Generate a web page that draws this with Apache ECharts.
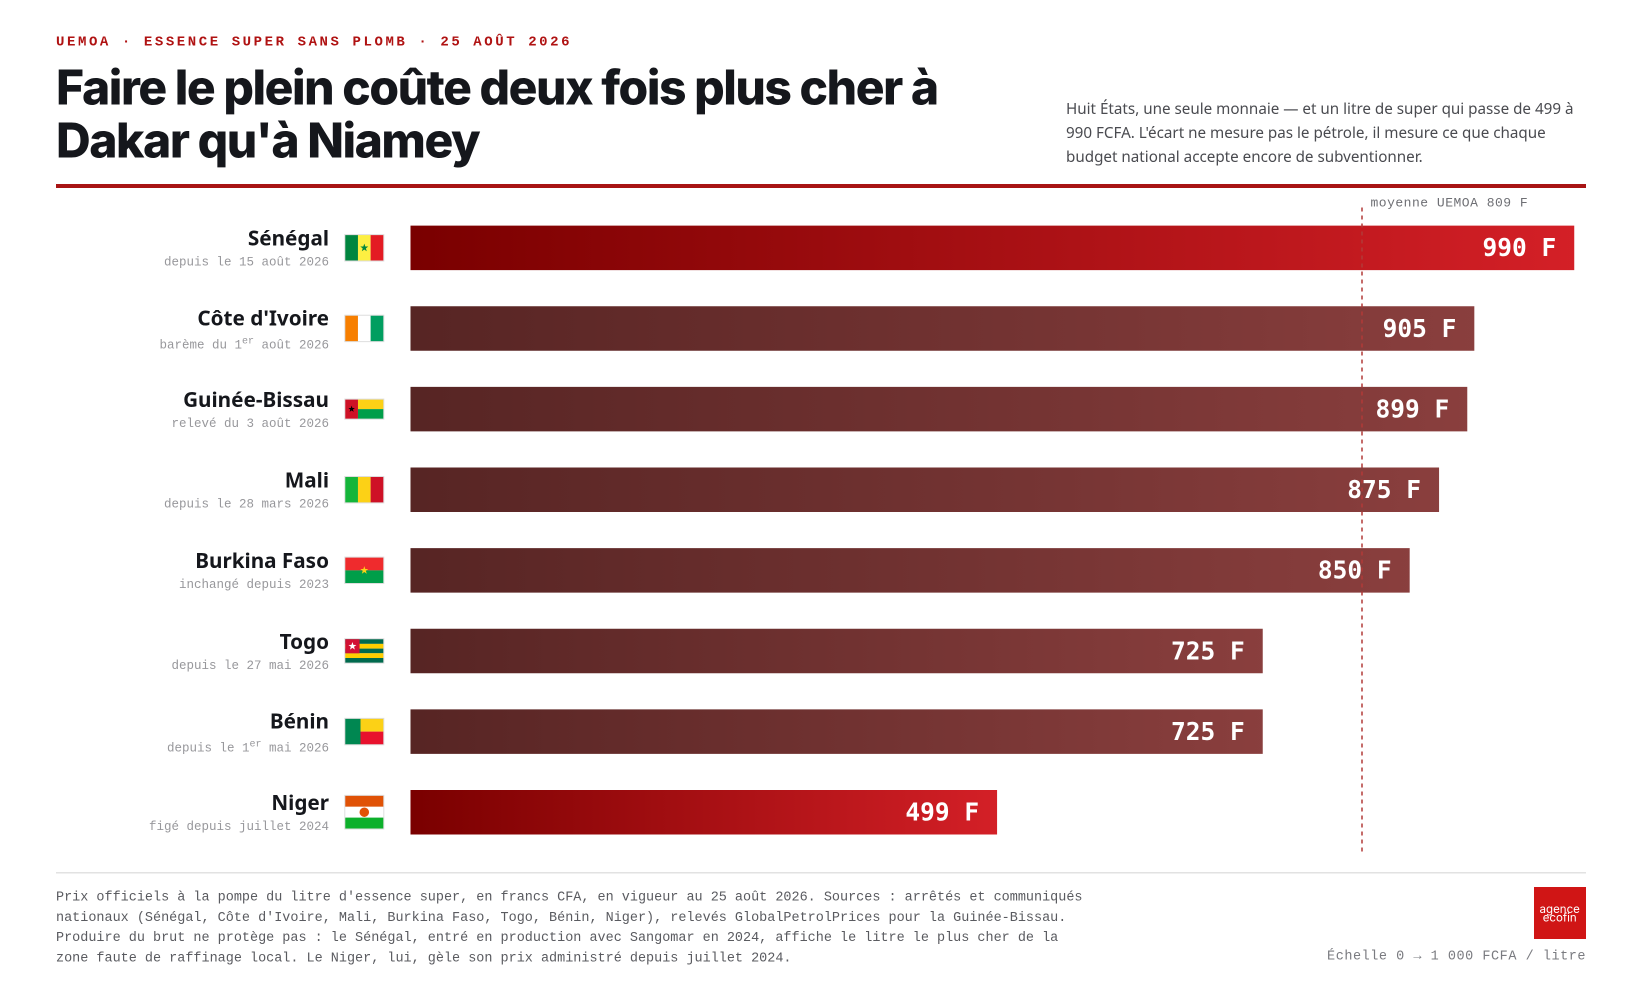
<!DOCTYPE html>
<html lang="fr"><head><meta charset="utf-8">
<style>html,body{margin:0;padding:0;background:#fff}#c{width:1639px;height:982px}</style>
<script src="https://cdn.jsdelivr.net/npm/echarts@6/dist/echarts.min.js"></script>
</head><body><div id="c"></div>
<script>
const countries=["Sénégal","Côte d'Ivoire","Guinée-Bissau","Mali","Burkina Faso","Togo","Bénin","Niger"];
const notes=["depuis le 15 août 2026","barème du 1^ août 2026","relevé du 3 août 2026","depuis le 28 mars 2026","inchangé depuis 2023","depuis le 27 mai 2026","depuis le 1^ mai 2026","figé depuis juillet 2024"];
const prices=[990,905,899,875,850,725,725,499];
const highlighted=[true,false,false,false,false,false,false,true];
const average=809;
const eyebrow="UEMOA · ESSENCE SUPER SANS PLOMB · 25 AOÛT 2026";
const titleLines=["Faire le plein coûte deux fois plus cher à","Dakar qu'à Niamey"];
const deckLines=["Huit États, une seule monnaie — et un litre de super qui passe de 499 à","990 FCFA. L'écart ne mesure pas le pétrole, il mesure ce que chaque","budget national accepte encore de subventionner."];
const footLines=["Prix officiels à la pompe du litre d'essence super, en francs CFA, en vigueur au 25 août 2026. Sources : arrêtés et communiqués","nationaux (Sénégal, Côte d'Ivoire, Mali, Burkina Faso, Togo, Bénin, Niger), relevés GlobalPetrolPrices pour la Guinée-Bissau.","Produire du brut ne protège pas : le Sénégal, entré en production avec Sangomar en 2024, affiche le litre le plus cher de la","zone faute de raffinage local. Le Niger, lui, gèle son prix administré depuis juillet 2024."];
const scaleNote="Échelle 0 → 1 000 FCFA / litre";
const avgLabel="moyenne UEMOA 809 F";

const MONO='"Liberation Mono","DejaVu Sans Mono",monospace';
const SANS='"Noto Sans",sans-serif';
const spacing={};
spacing[eyebrow]='2.58px';spacing[scaleNote]='0.53px';spacing[avgLabel]='0.5px';
titleLines.forEach(t=>spacing[t]='-1.45px');
const origFill=CanvasRenderingContext2D.prototype.fillText;
CanvasRenderingContext2D.prototype.fillText=function(t,x,y,m){
  this.letterSpacing=spacing[t]||'0px';
  if(m!==undefined)origFill.call(this,t,x,y,m); else origFill.call(this,t,x,y);
  this.letterSpacing='0px';
};

function star(cx,cy,r){const p=[];for(let i=0;i<10;i++){const a=-Math.PI/2+i*Math.PI/5,q=i%2?r*0.4:r;p.push([cx+q*Math.cos(a),cy+q*Math.sin(a)]);}return p;}
const flags=[
 {h:2/3,p:[[0,0,1/3,1,'#00853F'],[1/3,0,1/3,1,'#FDEF42'],[2/3,0,1/3,1,'#E31B23']],star:[.5,.5,.11,'#00853F']},
 {h:2/3,p:[[0,0,1/3,1,'#F77F00'],[1/3,0,1/3,1,'#FFFFFF'],[2/3,0,1/3,1,'#009E60']]},
 {h:1/2,p:[[1/3,0,2/3,.5,'#FCD116'],[1/3,.5,2/3,.5,'#009E49'],[0,0,1/3,1,'#CE1126']],star:[1/6,.5,.09,'#000000']},
 {h:2/3,p:[[0,0,1/3,1,'#14B53A'],[1/3,0,1/3,1,'#FCD116'],[2/3,0,1/3,1,'#CE1126']]},
 {h:2/3,p:[[0,0,1,.5,'#EF2B2D'],[0,.5,1,.5,'#009E49']],star:[.5,.5,.11,'#FCD116']},
 {h:.618,p:[[0,0,1,.2,'#006A4E'],[0,.2,1,.2,'#FFCE00'],[0,.4,1,.2,'#006A4E'],[0,.6,1,.2,'#FFCE00'],[0,.8,1,.2,'#006A4E'],[0,0,.375,.6,'#D21034']],star:[.1875,.3,.11,'#FFFFFF']},
 {h:2/3,p:[[.4,0,.6,.5,'#FCD116'],[.4,.5,.6,.5,'#E8112D'],[0,0,.4,1,'#008751']]},
 {h:6/7,p:[[0,0,1,1/3,'#E05206'],[0,1/3,1,1/3,'#FFFFFF'],[0,2/3,1,1/3,'#0DB02B']],disc:[.5,.5,.125,'#E05206']}
];
const FW=38;
function renderFlag(params,api){
  const i=api.value(1),f=flags[i],c=api.coord([0,i]);
  const cx=c[0]-46.2,cy=c[1],H=FW*f.h,x0=cx-FW/2,y0=cy-H/2;
  const kids=[{type:'rect',shape:{x:x0-1,y:y0-1,width:FW+2,height:H+2},style:{fill:'#dedede'}}];
  f.p.forEach(r=>kids.push({type:'rect',shape:{x:x0+r[0]*FW,y:y0+r[1]*H,width:r[2]*FW,height:r[3]*H},style:{fill:r[4]}}));
  if(f.star){const s=f.star;kids.push({type:'polygon',shape:{points:star(x0+s[0]*FW,y0+s[1]*H,s[2]*FW)},style:{fill:s[3]}});}
  if(f.disc){const s=f.disc;kids.push({type:'circle',shape:{cx:x0+s[0]*FW,cy:y0+s[1]*H,r:s[2]*FW},style:{fill:s[3]}});}
  return {type:'group',children:kids};
}
function txt(text,x,y,font,fill,align,extra){
  return Object.assign({type:'text',x:x,y:y,silent:true,style:{text:text,x:0,y:0,font:font,fill:fill,textAlign:align||'left',textVerticalAlign:'middle'}},extra||{});
}
const grads=(i)=>{
  const st=highlighted[i]?[ '#7a0000','#d42027']:['#572524','#8a3f3e'];
  return new echarts.graphic.LinearGradient(0,0,1,0,[{offset:0,color:st[0]},{offset:1,color:st[1]}]);
};
const graphic=[
  txt(eyebrow,56,42,'bold 14px '+MONO,'#b01212'),
  ...titleLines.map((t,i)=>txt(t,56,90+i*53,'800 48px Inter','#15171c')),
  ...deckLines.map((t,i)=>txt(t,1066,109.5+i*24.2,'15.2px '+SANS,'#4a4b50')),
  {type:'rect',silent:true,shape:{x:56,y:184,width:1530,height:4},style:{fill:'#a81414'}},
  {type:'rect',silent:true,shape:{x:56,y:872,width:1530,height:1.5},style:{fill:'#e2e2e2'}},
  ...footLines.map((t,i)=>txt(t,56,897+i*20.25,'13.47px '+MONO,'#5a5b60')),
  txt(scaleNote,1586,956,'13.5px '+MONO,'#7a7b80','right'),
  {type:'rect',silent:true,shape:{x:1534,y:887,width:52,height:52},style:{fill:'#d01515'}},
  txt('agence',1559.7,909.5,'11.5px Inter','#ffffff','center'),
  txt('ecofin',1559.7,918,'11.5px Inter','#ffffff','center')
];
function labelFor(i){
  const n=notes[i],hasSup=n.indexOf('^')>=0;
  const sub=hasSup?n.split('^').map(s=>'{ss|'+s+'}').join('{sup|er}'):'{s|'+n+'}';
  return '{'+(hasSup?'nn':'n')+'|'+countries[i]+'}\n'+sub;
}
const chart=echarts.init(document.getElementById('c'),null,{renderer:'canvas',width:1639,height:982,devicePixelRatio:2});
chart.setOption({
  animation:false,
  backgroundColor:'#ffffff',
  graphic:graphic,
  grid:{left:410.5,top:207.5,width:1175.5,height:645,containLabel:false},
  xAxis:{type:'value',min:0,max:1000,show:false},
  yAxis:{type:'category',inverse:true,data:countries,
    axisLine:{show:false},axisTick:{show:false},splitLine:{show:false},
    axisLabel:{margin:81.5,align:'right',interval:0,
      formatter:(v,i)=>labelFor(i),
      rich:{
        n:{fontWeight:700,fontFamily:'Noto Sans',fontSize:20.7,color:'#15171c',lineHeight:29},
        nn:{fontWeight:700,fontFamily:'Noto Sans',fontSize:20.7,color:'#15171c',lineHeight:33},
        s:{fontFamily:'Liberation Mono',fontSize:12.5,color:'#98989c',lineHeight:16},
        ss:{fontFamily:'Liberation Mono',fontSize:12.5,color:'#98989c',lineHeight:18},
        sup:{fontFamily:'Liberation Mono',fontSize:10,color:'#98989c',lineHeight:18,verticalAlign:'top'}
      }}},
  series:[
   {type:'bar',barWidth:44.5,data:prices.map((v,i)=>({value:v,itemStyle:{color:grads(i)}})),
    label:{show:true,position:'insideRight',distance:18,offset:[0,2],formatter:'{c} F',fontFamily:'DejaVu Sans Mono',fontWeight:'bold',fontSize:24.5,color:'#fff'},
    markLine:{silent:true,symbol:'none',animation:false,data:[{xAxis:average}],
      lineStyle:{type:[4,4],color:'#b23a38',width:1.5},
      label:{show:true,position:'start',formatter:avgLabel,align:'left',offset:[9,7],fontFamily:'Liberation Mono',fontSize:13,color:'#6e6f74'}},
    z:2},
   {type:'custom',renderItem:renderFlag,clip:false,silent:true,data:countries.map((c,i)=>[0,i]),encode:{x:0,y:1},z:3}
  ]
});
</script></body></html>
